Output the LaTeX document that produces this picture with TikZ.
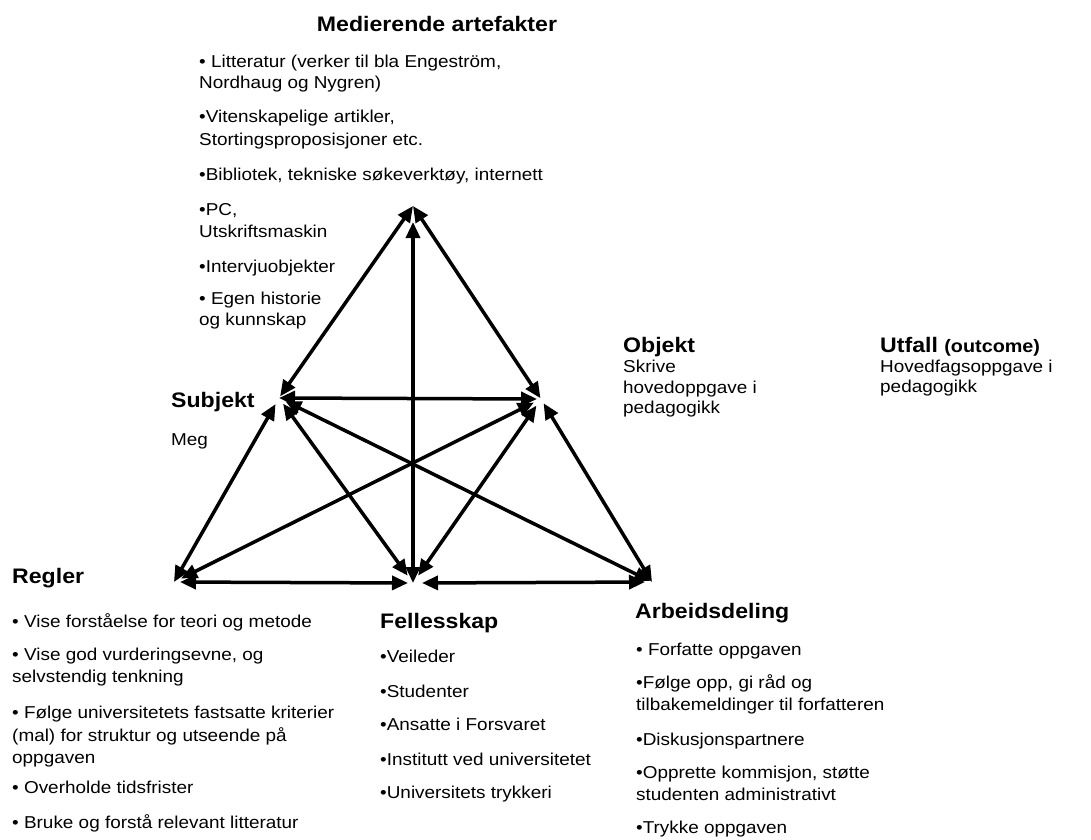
\documentclass[tikz,border=0pt]{standalone}
\usepackage{fontspec}
\setmainfont{Liberation Sans}[FakeStretch=1.1]
\usetikzlibrary{arrows.meta}
\begin{document}
\begin{tikzpicture}[x=1pt,y=-1pt,
  body/.style={anchor=base west, inner sep=0pt, font=\fontsize{17.2}{20}\selectfont},
  head/.style={anchor=base west, inner sep=0pt, font=\fontsize{21}{24}\selectfont\bfseries},
  link/.style={line width=3.5pt, {Triangle[length=16pt,width=14pt]}-{Triangle[length=16pt,width=14pt]}},
]
\useasboundingbox (0,0) rectangle (1091,839);

% corners of the activity triangle
\coordinate (A) at (413,206);
\coordinate (S) at (279,398);
\coordinate (O) at (541,399);
\coordinate (R) at (174,582);
\coordinate (F) at (413,583);
\coordinate (W) at (652,582);

% connectors
\draw[link, shorten >=2pt] (A) -- (S);
\draw[link, shorten >=1pt] (A) -- (O);
\draw[link, shorten <=16pt] (A) -- (F);
\draw[link, shorten >=4pt] (S) -- (O);
\draw[link, shorten <=7pt] (S) -- (R);
\draw[link, shorten <=7pt, shorten >=9pt] (S) -- (F);
\draw[link, shorten <=7pt, shorten >=2pt] (S) -- (W);
\draw[link, shorten <=8pt, shorten >=8pt] (O) -- (R);
\draw[link, shorten <=8pt, shorten >=9pt] (O) -- (F);
\draw[link, shorten <=5pt] (O) -- (W);
\draw[link, shorten <=6pt, shorten >=5pt] (R) -- (F);
\draw[link, shorten <=9pt, shorten >=7pt] (F) -- (W);

% mediating artefacts
\node[head, anchor=base] (med) at (437,31) {Medierende artefakter};
\node[body] (med1) at (199,67) {• Litteratur (verker til bla Engeström,};
\node[body] (med1b) at (199,88) {Nordhaug og Nygren)};
\node[body] (med2) at (199,122) {•Vitenskapelige artikler,};
\node[body] (med2b) at (199,145) {Stortingsproposisjoner etc.};
\node[body] (med3) at (199,180) {•Bibliotek, tekniske søkeverktøy, internett};
\node[body] (med4) at (199,215) {•PC,};
\node[body] (med4b) at (199,237) {Utskriftsmaskin};
\node[body] (med5) at (199,272) {•Intervjuobjekter};
\node[body] (med6) at (199,304) {• Egen historie};
\node[body] (med6b) at (199,325) {og kunnskap};

% subject
\node[head] (sub) at (171,407) {Subjekt};
\node[body] (sub1) at (171,445) {Meg};

% object
\node[head] (obj) at (623,352) {Objekt};
\node[body] (obj1) at (623,372) {Skrive};
\node[body] (obj2) at (623,393) {hovedoppgave i};
\node[body] (obj3) at (623,413) {pedagogikk};

% outcome
\node[head] (utf) at (880,352) {Utfall {\fontsize{18}{20}\selectfont (outcome)}};
\node[body] (utf1) at (880,372) {Hovedfagsoppgave i};
\node[body] (utf2) at (880,392) {pedagogikk};

% rules
\node[head] (reg) at (12,583) {Regler};
\node[body] (reg1) at (12,627) {• Vise forståelse for teori og metode};
\node[body] (reg2) at (12,660) {• Vise god vurderingsevne, og};
\node[body] (reg2b) at (12,682) {selvstendig tenkning};
\node[body] (reg3) at (12,718) {• Følge universitetets fastsatte kriterier};
\node[body] (reg3b) at (12,741) {(mal) for struktur og utseende på};
\node[body] (reg3c) at (12,763) {oppgaven};
\node[body] (reg4) at (12,793) {• Overholde tidsfrister};
\node[body] (reg5) at (12,828) {• Bruke og forstå relevant litteratur};

% community
\node[head] (fel) at (380,628) {Fellesskap};
\node[body] (fel1) at (380,662) {•Veileder};
\node[body] (fel2) at (380,697) {•Studenter};
\node[body] (fel3) at (380,730) {•Ansatte i Forsvaret};
\node[body] (fel4) at (380,765) {•Institutt ved universitetet};
\node[body] (fel5) at (380,798) {•Universitets trykkeri};

% division of labour
\node[head] (arb) at (635,618) {Arbeidsdeling};
\node[body] (arb1) at (636,655) {• Forfatte oppgaven};
\node[body] (arb2) at (636,688) {•Følge opp, gi råd og};
\node[body] (arb2b) at (636,710) {tilbakemeldinger til forfatteren};
\node[body] (arb3) at (636,745) {•Diskusjonspartnere};
\node[body] (arb4) at (636,778) {•Opprette kommisjon, støtte};
\node[body] (arb4b) at (636,800) {studenten administrativt};
\node[body] (arb5) at (636,833) {•Trykke oppgaven};
\end{tikzpicture}
\end{document}
